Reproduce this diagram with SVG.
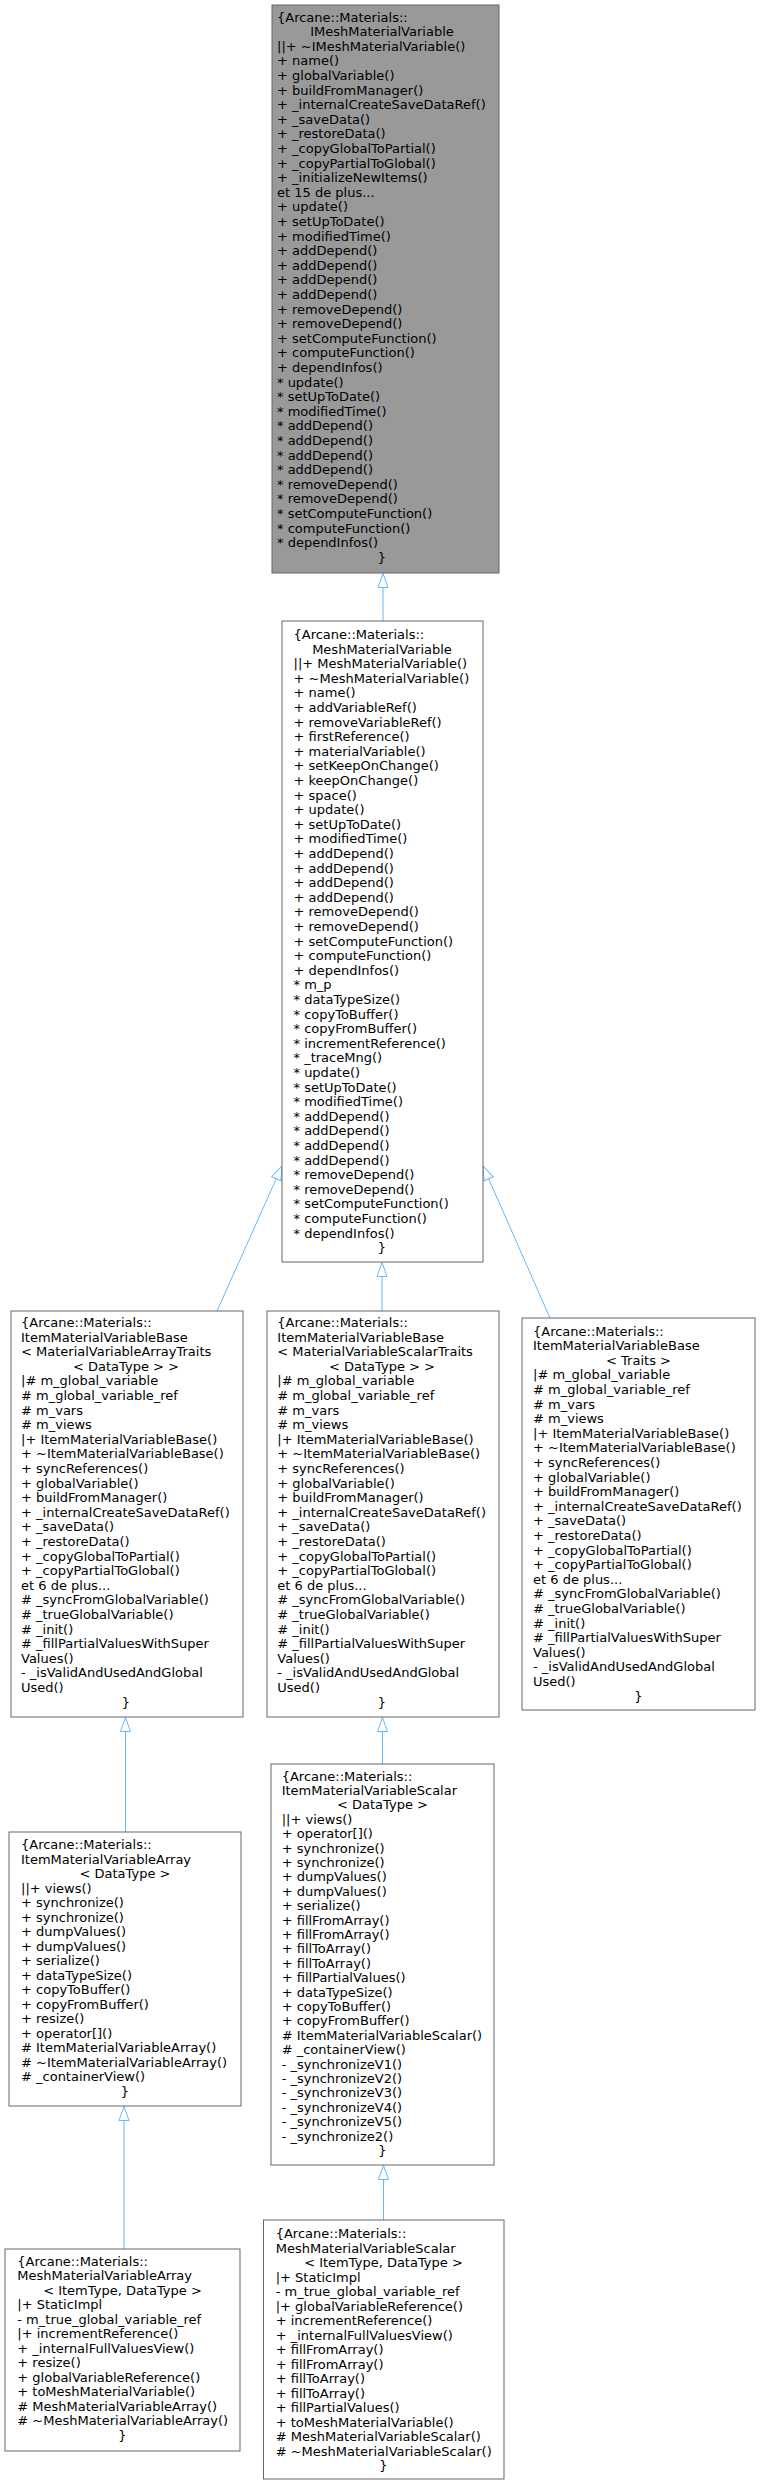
<svg xmlns="http://www.w3.org/2000/svg" width="760" height="2485" viewBox="0 0 760 2485">
<style>
text{font-family:"DejaVu Sans",sans-serif;font-size:13px;fill:#000}
.c{text-anchor:middle}
.n{fill:#fff;stroke:#666;stroke-width:1}
.top{fill:#999}
.e{stroke:#63B8FF;stroke-width:1;fill:none;marker-end:url(#inh)}
</style>
<defs>
<marker id="inh" markerUnits="userSpaceOnUse" viewBox="0 0 16 12" markerWidth="16" markerHeight="12" refX="15" refY="6" orient="auto">
<path d="M1,1 L15,6 L1,11 Z" fill="#fff" stroke="#63B8FF" stroke-width="1"/>
</marker>
</defs>
<rect width="760" height="2485" fill="#fff"/>
<g id="edges">
<path class="e" d="M383,621 L383,573.5"/>
<path class="e" d="M217,1311 L282,1166"/>
<path class="e" d="M382,1311 L382,1262.5"/>
<path class="e" d="M550,1318 L483,1166"/>
<path class="e" d="M125.5,1832 L125.5,1717.5"/>
<path class="e" d="M382.5,1764 L382.5,1717.5"/>
<path class="e" d="M124,2249 L124,2106.5"/>
<path class="e" d="M383.5,2220 L383.5,2165.5"/>
</g>
<g id="IMeshMaterialVariable">
<rect class="n top" x="272" y="5" width="227" height="568"/>
<text y="21.6"><tspan x="277">{Arcane::Materials::</tspan><tspan class="c" x="382" dy="14.6">IMeshMaterialVariable</tspan><tspan x="277" dy="14.6">||+ ~IMeshMaterialVariable()</tspan><tspan x="277" dy="14.6">+ name()</tspan><tspan x="277" dy="14.6">+ globalVariable()</tspan><tspan x="277" dy="14.6">+ buildFromManager()</tspan><tspan x="277" dy="14.6">+ _internalCreateSaveDataRef()</tspan><tspan x="277" dy="14.6">+ _saveData()</tspan><tspan x="277" dy="14.6">+ _restoreData()</tspan><tspan x="277" dy="14.6">+ _copyGlobalToPartial()</tspan><tspan x="277" dy="14.6">+ _copyPartialToGlobal()</tspan><tspan x="277" dy="14.6">+ _initializeNewItems()</tspan><tspan x="277" dy="14.6">et 15 de plus...</tspan><tspan x="277" dy="14.6">+ update()</tspan><tspan x="277" dy="14.6">+ setUpToDate()</tspan><tspan x="277" dy="14.6">+ modifiedTime()</tspan><tspan x="277" dy="14.6">+ addDepend()</tspan><tspan x="277" dy="14.6">+ addDepend()</tspan><tspan x="277" dy="14.6">+ addDepend()</tspan><tspan x="277" dy="14.6">+ addDepend()</tspan><tspan x="277" dy="14.6">+ removeDepend()</tspan><tspan x="277" dy="14.6">+ removeDepend()</tspan><tspan x="277" dy="14.6">+ setComputeFunction()</tspan><tspan x="277" dy="14.6">+ computeFunction()</tspan><tspan x="277" dy="14.6">+ dependInfos()</tspan><tspan x="277" dy="14.6">* update()</tspan><tspan x="277" dy="14.6">* setUpToDate()</tspan><tspan x="277" dy="14.6">* modifiedTime()</tspan><tspan x="277" dy="14.6">* addDepend()</tspan><tspan x="277" dy="14.6">* addDepend()</tspan><tspan x="277" dy="14.6">* addDepend()</tspan><tspan x="277" dy="14.6">* addDepend()</tspan><tspan x="277" dy="14.6">* removeDepend()</tspan><tspan x="277" dy="14.6">* removeDepend()</tspan><tspan x="277" dy="14.6">* setComputeFunction()</tspan><tspan x="277" dy="14.6">* computeFunction()</tspan><tspan x="277" dy="14.6">* dependInfos()</tspan><tspan class="c" x="382" dy="14.6">}</tspan></text>
</g>
<g id="MeshMaterialVariable">
<rect class="n" x="282" y="621" width="201" height="641"/>
<text y="639"><tspan x="293.5">{Arcane::Materials::</tspan><tspan class="c" x="382" dy="14.6">MeshMaterialVariable</tspan><tspan x="293.5" dy="14.6">||+ MeshMaterialVariable()</tspan><tspan x="293.5" dy="14.6">+ ~MeshMaterialVariable()</tspan><tspan x="293.5" dy="14.6">+ name()</tspan><tspan x="293.5" dy="14.6">+ addVariableRef()</tspan><tspan x="293.5" dy="14.6">+ removeVariableRef()</tspan><tspan x="293.5" dy="14.6">+ firstReference()</tspan><tspan x="293.5" dy="14.6">+ materialVariable()</tspan><tspan x="293.5" dy="14.6">+ setKeepOnChange()</tspan><tspan x="293.5" dy="14.6">+ keepOnChange()</tspan><tspan x="293.5" dy="14.6">+ space()</tspan><tspan x="293.5" dy="14.6">+ update()</tspan><tspan x="293.5" dy="14.6">+ setUpToDate()</tspan><tspan x="293.5" dy="14.6">+ modifiedTime()</tspan><tspan x="293.5" dy="14.6">+ addDepend()</tspan><tspan x="293.5" dy="14.6">+ addDepend()</tspan><tspan x="293.5" dy="14.6">+ addDepend()</tspan><tspan x="293.5" dy="14.6">+ addDepend()</tspan><tspan x="293.5" dy="14.6">+ removeDepend()</tspan><tspan x="293.5" dy="14.6">+ removeDepend()</tspan><tspan x="293.5" dy="14.6">+ setComputeFunction()</tspan><tspan x="293.5" dy="14.6">+ computeFunction()</tspan><tspan x="293.5" dy="14.6">+ dependInfos()</tspan><tspan x="293.5" dy="14.6">* m_p</tspan><tspan x="293.5" dy="14.6">* dataTypeSize()</tspan><tspan x="293.5" dy="14.6">* copyToBuffer()</tspan><tspan x="293.5" dy="14.6">* copyFromBuffer()</tspan><tspan x="293.5" dy="14.6">* incrementReference()</tspan><tspan x="293.5" dy="14.6">* _traceMng()</tspan><tspan x="293.5" dy="14.6">* update()</tspan><tspan x="293.5" dy="14.6">* setUpToDate()</tspan><tspan x="293.5" dy="14.6">* modifiedTime()</tspan><tspan x="293.5" dy="14.6">* addDepend()</tspan><tspan x="293.5" dy="14.6">* addDepend()</tspan><tspan x="293.5" dy="14.6">* addDepend()</tspan><tspan x="293.5" dy="14.6">* addDepend()</tspan><tspan x="293.5" dy="14.6">* removeDepend()</tspan><tspan x="293.5" dy="14.6">* removeDepend()</tspan><tspan x="293.5" dy="14.6">* setComputeFunction()</tspan><tspan x="293.5" dy="14.6">* computeFunction()</tspan><tspan x="293.5" dy="14.6">* dependInfos()</tspan><tspan class="c" x="382" dy="14.6">}</tspan></text>
</g>
<g id="ItemMaterialVariableBaseArray">
<rect class="n" x="11" y="1311" width="232" height="406"/>
<text y="1327"><tspan x="21">{Arcane::Materials::</tspan><tspan x="21" dy="14.6">ItemMaterialVariableBase</tspan><tspan x="21" dy="14.6">&lt; MaterialVariableArrayTraits</tspan><tspan class="c" x="126" dy="14.6">&lt; DataType &gt; &gt;</tspan><tspan x="21" dy="14.6">|# m_global_variable</tspan><tspan x="21" dy="14.6"># m_global_variable_ref</tspan><tspan x="21" dy="14.6"># m_vars</tspan><tspan x="21" dy="14.6"># m_views</tspan><tspan x="21" dy="14.6">|+ ItemMaterialVariableBase()</tspan><tspan x="21" dy="14.6">+ ~ItemMaterialVariableBase()</tspan><tspan x="21" dy="14.6">+ syncReferences()</tspan><tspan x="21" dy="14.6">+ globalVariable()</tspan><tspan x="21" dy="14.6">+ buildFromManager()</tspan><tspan x="21" dy="14.6">+ _internalCreateSaveDataRef()</tspan><tspan x="21" dy="14.6">+ _saveData()</tspan><tspan x="21" dy="14.6">+ _restoreData()</tspan><tspan x="21" dy="14.6">+ _copyGlobalToPartial()</tspan><tspan x="21" dy="14.6">+ _copyPartialToGlobal()</tspan><tspan x="21" dy="14.6">et 6 de plus...</tspan><tspan x="21" dy="14.6"># _syncFromGlobalVariable()</tspan><tspan x="21" dy="14.6"># _trueGlobalVariable()</tspan><tspan x="21" dy="14.6"># _init()</tspan><tspan x="21" dy="14.6"># _fillPartialValuesWithSuper</tspan><tspan x="21" dy="14.6">Values()</tspan><tspan x="21" dy="14.6">- _isValidAndUsedAndGlobal</tspan><tspan x="21" dy="14.6">Used()</tspan><tspan class="c" x="126" dy="14.6">}</tspan></text>
</g>
<g id="ItemMaterialVariableBaseScalar">
<rect class="n" x="267" y="1311" width="232" height="406"/>
<text y="1327"><tspan x="277.3">{Arcane::Materials::</tspan><tspan x="277.3" dy="14.6">ItemMaterialVariableBase</tspan><tspan x="277.3" dy="14.6">&lt; MaterialVariableScalarTraits</tspan><tspan class="c" x="382" dy="14.6">&lt; DataType &gt; &gt;</tspan><tspan x="277.3" dy="14.6">|# m_global_variable</tspan><tspan x="277.3" dy="14.6"># m_global_variable_ref</tspan><tspan x="277.3" dy="14.6"># m_vars</tspan><tspan x="277.3" dy="14.6"># m_views</tspan><tspan x="277.3" dy="14.6">|+ ItemMaterialVariableBase()</tspan><tspan x="277.3" dy="14.6">+ ~ItemMaterialVariableBase()</tspan><tspan x="277.3" dy="14.6">+ syncReferences()</tspan><tspan x="277.3" dy="14.6">+ globalVariable()</tspan><tspan x="277.3" dy="14.6">+ buildFromManager()</tspan><tspan x="277.3" dy="14.6">+ _internalCreateSaveDataRef()</tspan><tspan x="277.3" dy="14.6">+ _saveData()</tspan><tspan x="277.3" dy="14.6">+ _restoreData()</tspan><tspan x="277.3" dy="14.6">+ _copyGlobalToPartial()</tspan><tspan x="277.3" dy="14.6">+ _copyPartialToGlobal()</tspan><tspan x="277.3" dy="14.6">et 6 de plus...</tspan><tspan x="277.3" dy="14.6"># _syncFromGlobalVariable()</tspan><tspan x="277.3" dy="14.6"># _trueGlobalVariable()</tspan><tspan x="277.3" dy="14.6"># _init()</tspan><tspan x="277.3" dy="14.6"># _fillPartialValuesWithSuper</tspan><tspan x="277.3" dy="14.6">Values()</tspan><tspan x="277.3" dy="14.6">- _isValidAndUsedAndGlobal</tspan><tspan x="277.3" dy="14.6">Used()</tspan><tspan class="c" x="382" dy="14.6">}</tspan></text>
</g>
<g id="ItemMaterialVariableBaseTraits">
<rect class="n" x="522" y="1318" width="233" height="392"/>
<text y="1335.5"><tspan x="533">{Arcane::Materials::</tspan><tspan x="533" dy="14.6">ItemMaterialVariableBase</tspan><tspan class="c" x="638.5" dy="14.6">&lt; Traits &gt;</tspan><tspan x="533" dy="14.6">|# m_global_variable</tspan><tspan x="533" dy="14.6"># m_global_variable_ref</tspan><tspan x="533" dy="14.6"># m_vars</tspan><tspan x="533" dy="14.6"># m_views</tspan><tspan x="533" dy="14.6">|+ ItemMaterialVariableBase()</tspan><tspan x="533" dy="14.6">+ ~ItemMaterialVariableBase()</tspan><tspan x="533" dy="14.6">+ syncReferences()</tspan><tspan x="533" dy="14.6">+ globalVariable()</tspan><tspan x="533" dy="14.6">+ buildFromManager()</tspan><tspan x="533" dy="14.6">+ _internalCreateSaveDataRef()</tspan><tspan x="533" dy="14.6">+ _saveData()</tspan><tspan x="533" dy="14.6">+ _restoreData()</tspan><tspan x="533" dy="14.6">+ _copyGlobalToPartial()</tspan><tspan x="533" dy="14.6">+ _copyPartialToGlobal()</tspan><tspan x="533" dy="14.6">et 6 de plus...</tspan><tspan x="533" dy="14.6"># _syncFromGlobalVariable()</tspan><tspan x="533" dy="14.6"># _trueGlobalVariable()</tspan><tspan x="533" dy="14.6"># _init()</tspan><tspan x="533" dy="14.6"># _fillPartialValuesWithSuper</tspan><tspan x="533" dy="14.6">Values()</tspan><tspan x="533" dy="14.6">- _isValidAndUsedAndGlobal</tspan><tspan x="533" dy="14.6">Used()</tspan><tspan class="c" x="638.5" dy="14.6">}</tspan></text>
</g>
<g id="ItemMaterialVariableArray">
<rect class="n" x="9" y="1832" width="232" height="274"/>
<text y="1849"><tspan x="21">{Arcane::Materials::</tspan><tspan x="21" dy="14.5">ItemMaterialVariableArray</tspan><tspan class="c" x="125" dy="14.5">&lt; DataType &gt;</tspan><tspan x="21" dy="14.5">||+ views()</tspan><tspan x="21" dy="14.5">+ synchronize()</tspan><tspan x="21" dy="14.5">+ synchronize()</tspan><tspan x="21" dy="14.5">+ dumpValues()</tspan><tspan x="21" dy="14.5">+ dumpValues()</tspan><tspan x="21" dy="14.5">+ serialize()</tspan><tspan x="21" dy="14.5">+ dataTypeSize()</tspan><tspan x="21" dy="14.5">+ copyToBuffer()</tspan><tspan x="21" dy="14.5">+ copyFromBuffer()</tspan><tspan x="21" dy="14.5">+ resize()</tspan><tspan x="21" dy="14.5">+ operator[]()</tspan><tspan x="21" dy="14.5"># ItemMaterialVariableArray()</tspan><tspan x="21" dy="14.5"># ~ItemMaterialVariableArray()</tspan><tspan x="21" dy="14.5"># _containerView()</tspan><tspan class="c" x="125" dy="14.5">}</tspan></text>
</g>
<g id="ItemMaterialVariableScalar">
<rect class="n" x="271" y="1764" width="223" height="401"/>
<text y="1780.5"><tspan x="281.7">{Arcane::Materials::</tspan><tspan x="281.7" dy="14.4">ItemMaterialVariableScalar</tspan><tspan class="c" x="382.5" dy="14.4">&lt; DataType &gt;</tspan><tspan x="281.7" dy="14.4">||+ views()</tspan><tspan x="281.7" dy="14.4">+ operator[]()</tspan><tspan x="281.7" dy="14.4">+ synchronize()</tspan><tspan x="281.7" dy="14.4">+ synchronize()</tspan><tspan x="281.7" dy="14.4">+ dumpValues()</tspan><tspan x="281.7" dy="14.4">+ dumpValues()</tspan><tspan x="281.7" dy="14.4">+ serialize()</tspan><tspan x="281.7" dy="14.4">+ fillFromArray()</tspan><tspan x="281.7" dy="14.4">+ fillFromArray()</tspan><tspan x="281.7" dy="14.4">+ fillToArray()</tspan><tspan x="281.7" dy="14.4">+ fillToArray()</tspan><tspan x="281.7" dy="14.4">+ fillPartialValues()</tspan><tspan x="281.7" dy="14.4">+ dataTypeSize()</tspan><tspan x="281.7" dy="14.4">+ copyToBuffer()</tspan><tspan x="281.7" dy="14.4">+ copyFromBuffer()</tspan><tspan x="281.7" dy="14.4"># ItemMaterialVariableScalar()</tspan><tspan x="281.7" dy="14.4"># _containerView()</tspan><tspan x="281.7" dy="14.4">- _synchronizeV1()</tspan><tspan x="281.7" dy="14.4">- _synchronizeV2()</tspan><tspan x="281.7" dy="14.4">- _synchronizeV3()</tspan><tspan x="281.7" dy="14.4">- _synchronizeV4()</tspan><tspan x="281.7" dy="14.4">- _synchronizeV5()</tspan><tspan x="281.7" dy="14.4">- _synchronize2()</tspan><tspan class="c" x="382.5" dy="14.4">}</tspan></text>
</g>
<g id="MeshMaterialVariableArray">
<rect class="n" x="5" y="2249" width="235" height="202"/>
<text y="2265.5"><tspan x="17.3">{Arcane::Materials::</tspan><tspan x="17.3" dy="14.5">MeshMaterialVariableArray</tspan><tspan class="c" x="122.5" dy="14.5">&lt; ItemType, DataType &gt;</tspan><tspan x="17.3" dy="14.5">|+ StaticImpl</tspan><tspan x="17.3" dy="14.5">- m_true_global_variable_ref</tspan><tspan x="17.3" dy="14.5">|+ incrementReference()</tspan><tspan x="17.3" dy="14.5">+ _internalFullValuesView()</tspan><tspan x="17.3" dy="14.5">+ resize()</tspan><tspan x="17.3" dy="14.5">+ globalVariableReference()</tspan><tspan x="17.3" dy="14.5">+ toMeshMaterialVariable()</tspan><tspan x="17.3" dy="14.5"># MeshMaterialVariableArray()</tspan><tspan x="17.3" dy="14.5"># ~MeshMaterialVariableArray()</tspan><tspan class="c" x="122.5" dy="14.5">}</tspan></text>
</g>
<g id="MeshMaterialVariableScalar">
<rect class="n" x="263.5" y="2220" width="240.5" height="259"/>
<text y="2238"><tspan x="275.7">{Arcane::Materials::</tspan><tspan x="275.7" dy="14.5">MeshMaterialVariableScalar</tspan><tspan class="c" x="383.5" dy="14.5">&lt; ItemType, DataType &gt;</tspan><tspan x="275.7" dy="14.5">|+ StaticImpl</tspan><tspan x="275.7" dy="14.5">- m_true_global_variable_ref</tspan><tspan x="275.7" dy="14.5">|+ globalVariableReference()</tspan><tspan x="275.7" dy="14.5">+ incrementReference()</tspan><tspan x="275.7" dy="14.5">+ _internalFullValuesView()</tspan><tspan x="275.7" dy="14.5">+ fillFromArray()</tspan><tspan x="275.7" dy="14.5">+ fillFromArray()</tspan><tspan x="275.7" dy="14.5">+ fillToArray()</tspan><tspan x="275.7" dy="14.5">+ fillToArray()</tspan><tspan x="275.7" dy="14.5">+ fillPartialValues()</tspan><tspan x="275.7" dy="14.5">+ toMeshMaterialVariable()</tspan><tspan x="275.7" dy="14.5"># MeshMaterialVariableScalar()</tspan><tspan x="275.7" dy="14.5"># ~MeshMaterialVariableScalar()</tspan><tspan class="c" x="383.5" dy="14.5">}</tspan></text>
</g>
</svg>
